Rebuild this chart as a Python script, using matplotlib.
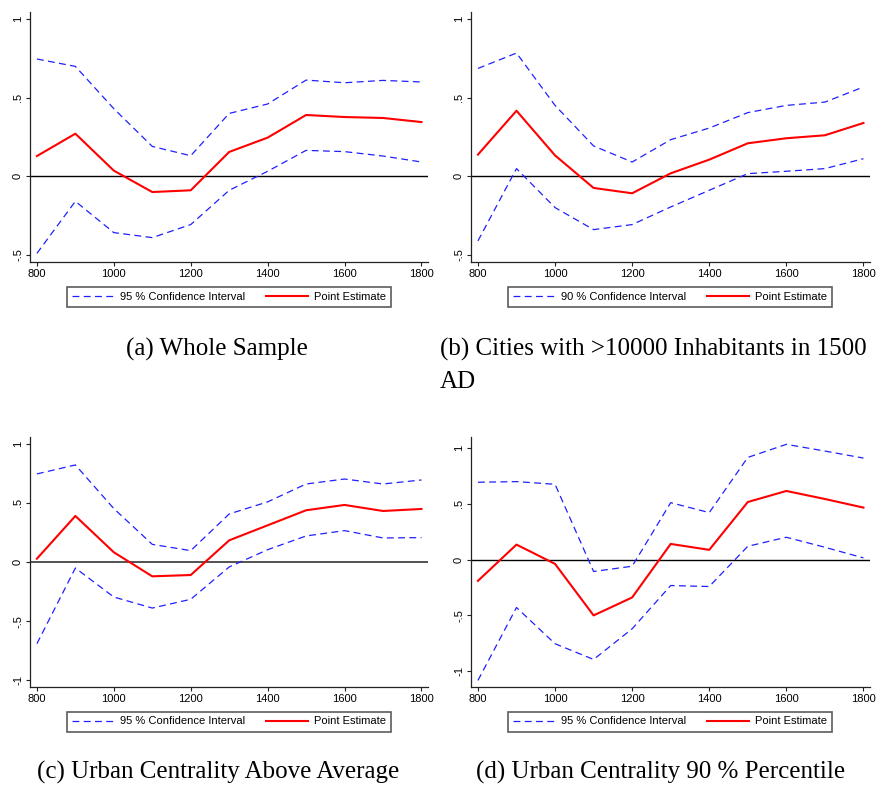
import matplotlib
matplotlib.use("Agg")
import matplotlib.pyplot as plt
from matplotlib.lines import Line2D

years = [800, 900, 1000, 1100, 1200, 1300, 1400, 1500, 1600, 1700, 1800]

a_upper = [0.746, 0.699, 0.43, 0.19, 0.131, 0.40, 0.46, 0.612, 0.595, 0.61, 0.60]
a_point = [0.129, 0.271, 0.036, -0.10, -0.089, 0.155, 0.246, 0.39, 0.377, 0.371, 0.345]
a_lower = [-0.49, -0.159, -0.358, -0.39, -0.307, -0.089, 0.032, 0.165, 0.157, 0.129, 0.091]

b_upper = [0.686, 0.784, 0.451, 0.193, 0.091, 0.233, 0.307, 0.405, 0.451, 0.472, 0.568]
b_point = [0.138, 0.417, 0.133, -0.074, -0.108, 0.019, 0.106, 0.21, 0.242, 0.261, 0.339]
b_lower = [-0.411, 0.049, -0.199, -0.339, -0.307, -0.195, -0.089, 0.017, 0.032, 0.049, 0.112]

c_upper = [0.744, 0.82, 0.451, 0.149, 0.096, 0.406, 0.508, 0.659, 0.701, 0.659, 0.693]
c_point = [0.028, 0.389, 0.082, -0.121, -0.11, 0.183, 0.31, 0.437, 0.482, 0.431, 0.448]
c_lower = [-0.69, -0.051, -0.296, -0.389, -0.315, -0.042, 0.104, 0.22, 0.265, 0.203, 0.206]

d_upper = [0.693, 0.699, 0.675, -0.107, -0.06, 0.51, 0.421, 0.916, 1.033, 0.973, 0.91]
d_point = [-0.191, 0.134, -0.039, -0.501, -0.34, 0.14, 0.087, 0.516, 0.615, 0.543, 0.466]
d_lower = [-1.084, -0.43, -0.755, -0.896, -0.621, -0.233, -0.242, 0.119, 0.2, 0.11, 0.015]

xticks = [800, 1000, 1200, 1400, 1600, 1800]
yticks_ab = [-0.5, 0, 0.5, 1]
ylabels_ab = ["-.5", "0", ".5", "1"]
yticks_cd = [-1, -0.5, 0, 0.5, 1]
ylabels_cd = ["-1", "-.5", "0", ".5", "1"]

ci_labels = ["95 % Confidence Interval", "90 % Confidence Interval",
             "95 % Confidence Interval", "95 % Confidence Interval"]
pe_label = "Point Estimate"
captions = ["(a) Whole Sample", "(b) Cities with >10000 Inhabitants in 1500",
            "(c) Urban Centrality Above Average", "(d) Urban Centrality 90 % Percentile"]

W, H = 878, 787
fig = plt.figure(figsize=(W / 100, H / 100), dpi=100)
plt.rcParams['font.family'] = ['Liberation Sans', 'DejaVu Sans']

# axes boxes in pixels: left, right, top, bottom
boxes = [(30, 428, 12, 262), (471, 870, 12, 262),
         (30, 428, 437, 687), (471, 870, 437, 687)]
ylims = [(-0.545, 1.045), (-0.545, 1.045), (-1.056, 1.056), (-1.143, 1.099)]
data = [(a_upper, a_point, a_lower), (b_upper, b_point, b_lower),
        (c_upper, c_point, c_lower), (d_upper, d_point, d_lower)]
yt = [(yticks_ab, ylabels_ab), (yticks_ab, ylabels_ab),
      (yticks_cd, ylabels_cd), (yticks_cd, ylabels_cd)]
zero_style = [('black', 1.0), ('black', 1.0), ('#444444', 1.3), ('black', 1.0)]

blue = '#2020ff'
red = '#ff0000'
dash = (0, (5.5, 3.5))

for i in range(4):
    l, r, t, b = boxes[i]
    ax = fig.add_axes([l / W, 1 - b / H, (r - l) / W, (b - t) / H])
    up, pt, lo = data[i]
    ax.axhline(0, color=zero_style[i][0], lw=zero_style[i][1], zorder=1)
    ax.plot(years, up, color=blue, lw=0.9, linestyle=dash, zorder=2)
    ax.plot(years, lo, color=blue, lw=0.9, linestyle=dash, zorder=2)
    ax.plot(years, pt, color=red, lw=1.5, zorder=3)
    ax.set_xlim(782, 1817)
    ax.set_ylim(*ylims[i])
    ax.set_xticks(xticks)
    ax.set_xticklabels([str(x) for x in xticks])
    ax.set_yticks(yt[i][0])
    ax.set_yticklabels(yt[i][1], rotation=90, va='center')
    ax.spines['top'].set_visible(False)
    ax.spines['right'].set_visible(False)
    for s in ['left', 'bottom']:
        ax.spines[s].set_linewidth(0.9)
        ax.spines[s].set_color('#222222')
    ax.tick_params(axis='both', labelsize=8, length=3, width=0.8, pad=2, color='#222222')
    ax.set_facecolor('white')

    handles = [Line2D([], [], color=blue, lw=0.9, linestyle=dash),
               Line2D([], [], color=red, lw=1.5)]
    cx = (l + 36 + l + 362) / 2 / W
    cy = 1 - (b + 34.5) / H
    leg = fig.legend(handles, [ci_labels[i], pe_label], loc='center',
                     bbox_to_anchor=(cx, cy), ncol=2, fontsize=8,
                     frameon=True, fancybox=False, handlelength=3.8,
                     handletextpad=0.6, columnspacing=1.8,
                     borderpad=0.45, borderaxespad=0)
    leg.get_frame().set_edgecolor('#333333')
    leg.get_frame().set_linewidth(1.2)

serif = ['Liberation Serif', 'DejaVu Serif']
fs = 18
fig.text(217 / W, 1 - 356 / H, captions[0], ha='center', va='baseline',
         fontsize=fs, family=serif)
fig.text(440 / W, 1 - 356 / H, captions[1], ha='left', va='baseline',
         fontsize=fs, family=serif)
fig.text(440 / W, 1 - 388 / H, "AD", ha='left', va='baseline',
         fontsize=fs, family=serif)
fig.text(218 / W, 1 - 779 / H, captions[2], ha='center', va='baseline',
         fontsize=fs, family=serif)
fig.text(661 / W, 1 - 779 / H, captions[3], ha='center', va='baseline',
         fontsize=fs, family=serif)

fig.savefig("out.png", dpi=100, facecolor='white')
